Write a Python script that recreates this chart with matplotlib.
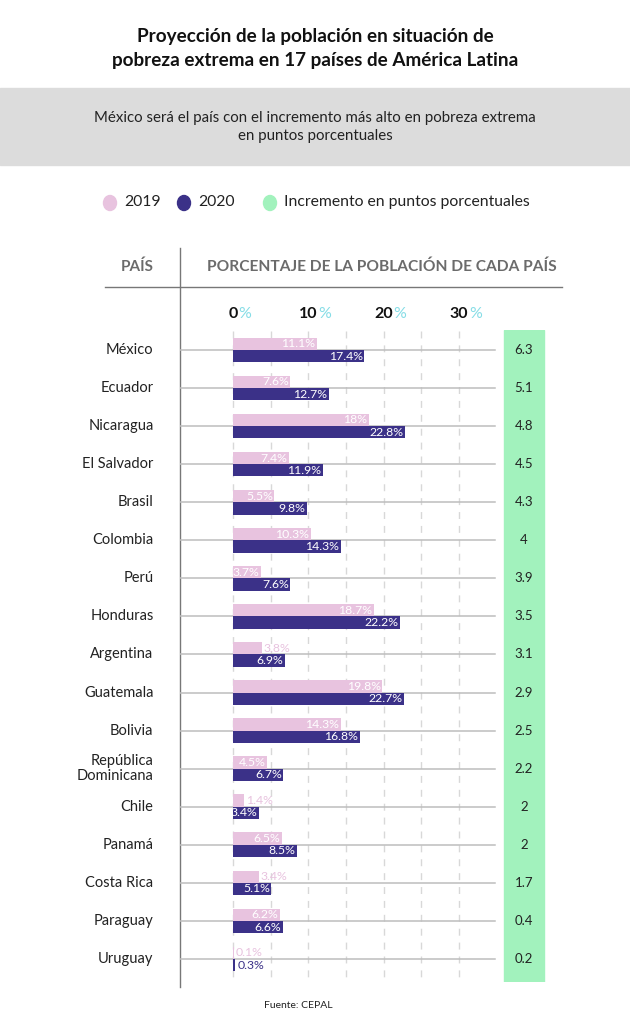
import matplotlib
matplotlib.use("Agg")
import matplotlib.pyplot as plt
from matplotlib.patches import Rectangle, Ellipse

# ---------------- data ----------------
countries = ["México", "Ecuador", "Nicaragua", "El Salvador", "Brasil", "Colombia",
             "Perú", "Honduras", "Argentina", "Guatemala", "Bolivia",
             "República\nDominicana", "Chile", "Panamá", "Costa Rica", "Paraguay", "Uruguay"]
pct_2019 = [11.1, 7.6, 18, 7.4, 5.5, 10.3, 3.7, 18.7, 3.8, 19.8, 14.3, 4.5, 1.4, 6.5, 3.4, 6.2, 0.1]
pct_2020 = [17.4, 12.7, 22.8, 11.9, 9.8, 14.3, 7.6, 22.2, 6.9, 22.7, 16.8, 6.7, 3.4, 8.5, 5.1, 6.6, 0.3]
increase = ["6.3", "5.1", "4.8", "4.5", "4.3", "4", "3.9", "3.5", "3.1", "2.9", "2.5",
            "2.2", "2", "2", "1.7", "0.4", "0.2"]
# labels drawn outside the bar (bar too short)
outside_2019 = [False, False, False, False, False, False, False, False, True, False, False,
                False, True, False, True, False, True]
outside_2020 = [False] * 16 + [True]
ticks = [0, 10, 20, 30]
grid_ticks = [0, 5, 10, 15, 20, 25, 30]

title = "Proyección de la población en situación de\npobreza extrema en 17 países de América Latina"
subtitle = "México será el país con el incremento más alto en pobreza extrema\nen puntos porcentuales"
legend_labels = ["2019", "2020", "Incremento en puntos porcentuales"]
source = "Fuente: CEPAL"

C19 = "#e8c3df"
C20 = "#3b3188"
CGREEN = "#a2f2bd"
CPCT = "#86dde6"
FONT = ["Lato", "DejaVu Sans"]
plt.rcParams["font.family"] = FONT

W, H = 630, 1024
fig = plt.figure(figsize=(W / 100, H / 100), dpi=100)

# full-figure pixel axes for decorations
bg = fig.add_axes([0, 0, 1, 1])
bg.set_xlim(0, W)
bg.set_ylim(H, 0)
bg.axis("off")

bg.text(315, 48.5, title, ha="center", va="center", fontsize=13.6, fontweight="bold",
        color="#111111", linespacing=1.45)
bg.add_patch(Rectangle((0, 88), W, 77, color="#dcdcdc", zorder=0))
bg.text(315, 127, subtitle, ha="center", va="center", fontsize=10.8, color="#222222",
        linespacing=1.45)

# legend
leg_x = [110, 184, 270]
leg_c = [C19, C20, CGREEN]
for x, c, lab in zip(leg_x, leg_c, legend_labels):
    bg.add_patch(Ellipse((x, 203), 13, 15, color=c))
    bg.text(x + 14, 202, lab, ha="left", va="center", fontsize=11.3, color="#222222")

# header
bg.text(137, 267, "PAÍS", ha="center", va="center", fontsize=11, fontweight="bold",
        color="#6b6b6b")
bg.text(382, 267, "PORCENTAJE DE LA POBLACIÓN DE CADA PAÍS", ha="center", va="center",
        fontsize=11.2, fontweight="bold", color="#6b6b6b")
bg.plot([105, 562], [287, 287], color="#777777", lw=1)
bg.plot([180, 180], [248, 987], color="#777777", lw=1)
bg.text(298, 1005, source, ha="center", va="center", fontsize=7.5, color="#222222")

# ---------------- data axes ----------------
px0, px_per = 233.0, 7.53          # pixel of 0 and pixels per percent
ax_left, ax_right = 180, 560
ax_top, ax_bot = 330, 982
row0, row_step = 350.0, 38.06
ax = fig.add_axes([ax_left / W, 1 - ax_bot / H, (ax_right - ax_left) / W, (ax_bot - ax_top) / H])
ax.set_xlim((ax_left - px0) / px_per, (ax_right - px0) / px_per)
ax.set_ylim((ax_bot - row0) / row_step, (ax_top - row0) / row_step)
ax.axis("off")

n = len(countries)
ys = list(range(n))
bar_h = 12.3 / row_step

# dashed grid
for g in grid_ticks:
    ax.plot([g, g], [(331 - row0) / row_step, (982 - row0) / row_step], color="#d8d8d8",
            lw=1, ls=(0, (5, 5)), zorder=0)
# row lines
x_line_end = (495 - px0) / px_per
for y in ys:
    ax.plot([ax.get_xlim()[0], x_line_end], [y, y], color="#bdbdbd", lw=1.1, zorder=1)

ax.barh([y - bar_h / 2 for y in ys], pct_2019, height=bar_h, color=C19, zorder=2)
ax.barh([y + bar_h / 2 for y in ys], pct_2020, height=bar_h, color=C20, zorder=2)

LFS = 8.8
for y, v, out in zip(ys, pct_2019, outside_2019):
    lab = f"{v:g}%"
    if out:
        ax.annotate(lab, (v, y - bar_h / 2), xytext=(1.5, 0), textcoords="offset points",
                    ha="left", va="center", fontsize=LFS, color=C19, zorder=3)
    else:
        ax.annotate(lab, (v, y - bar_h / 2), xytext=(-1.0, 0), textcoords="offset points",
                    ha="right", va="center", fontsize=LFS, color="white", zorder=3)
for y, v, out in zip(ys, pct_2020, outside_2020):
    lab = f"{v:g}%"
    if out:
        ax.annotate(lab, (v, y + bar_h / 2), xytext=(1.5, 0), textcoords="offset points",
                    ha="left", va="center", fontsize=LFS, color=C20, zorder=3)
    else:
        ax.annotate(lab, (v, y + bar_h / 2), xytext=(-1.0, 0), textcoords="offset points",
                    ha="right", va="center", fontsize=LFS, color="white", zorder=3)

# country labels
for y, c in zip(ys, countries):
    ax.annotate(c, (ax.get_xlim()[0], y), xytext=(-19, 0), textcoords="offset points",
                ha="right", va="center", fontsize=10.5, color="#222222", linespacing=1.15,
                annotation_clip=False)

# green increment column
gx0 = (504 - px0) / px_per
gx1 = (544 - px0) / px_per
ax.add_patch(Rectangle((gx0, ax.get_ylim()[1]), gx1 - gx0,
                       ax.get_ylim()[0] - ax.get_ylim()[1], color=CGREEN, zorder=1))
for y, s in zip(ys, increase):
    ax.text((gx0 + gx1) / 2, y, s, ha="center", va="center", fontsize=9.5, color="#222222",
            zorder=3)

# tick labels: bold number + cyan %
for t in ticks:
    num = ax.annotate(f"{t}", (t, (314 - row0) / row_step), ha="center", va="center",
                      fontsize=11.5, fontweight="bold", color="#111111", annotation_clip=False)
    ax.annotate("%", xy=(1, 0.5), xycoords=num, xytext=(0.5, 0), textcoords="offset points",
                ha="left", va="center", fontsize=11.5, color=CPCT, annotation_clip=False)

fig.savefig("out.png", dpi=100)
